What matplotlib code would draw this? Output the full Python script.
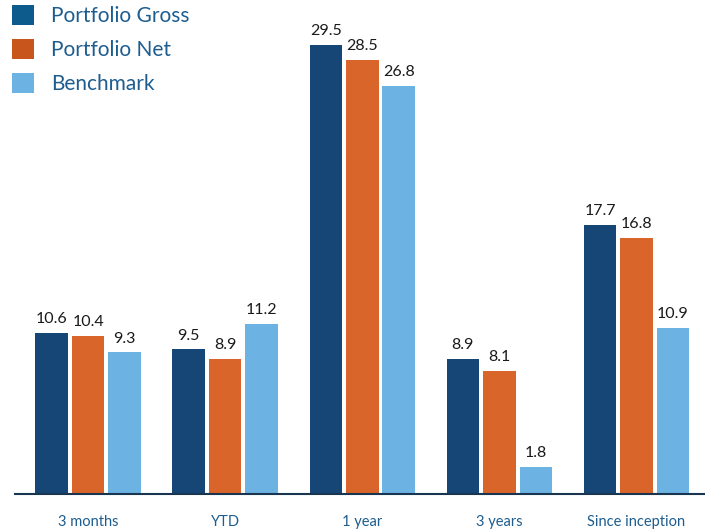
import matplotlib
matplotlib.use("Agg")
import matplotlib.pyplot as plt
import numpy as np
from matplotlib.patches import Patch

categories = ["3 months", "YTD", "1 year", "3 years", "Since inception"]
series_names = ["Portfolio Gross", "Portfolio Net", "Benchmark"]
gross = [10.6, 9.5, 29.5, 8.9, 17.7]
net = [10.4, 8.9, 28.5, 8.1, 16.8]
bench = [9.3, 11.2, 26.8, 1.8, 10.9]

bar_colors = ["#154676", "#d9652a", "#6cb3e3"]
legend_colors = ["#0d5a8c", "#c8551b", "#6cb3e3"]
text_blue = "#1d5d8f"

plt.rcParams['font.family'] = ['Lato', 'DejaVu Sans']

fig = plt.figure(figsize=(7.05, 5.29), dpi=100)
ax = fig.add_axes([15/705, 35/529, 690/705, 494/529])

x = np.arange(len(categories))
width = 0.237
step = 0.266
for i, vals in enumerate([gross, net, bench]):
    pos = x + (i - 1) * step
    ax.bar(pos, vals, width=width, color=bar_colors[i], zorder=2)
    for p, v in zip(pos, vals):
        ax.text(p, v + 0.45, f"{v:.1f}", ha="center", va="bottom",
                fontsize=11.5, color="#1a1a1a")

ax.set_xlim(-0.533, 4.5)
ax.set_ylim(0, 494/15.22)
for s in ["top", "right", "left"]:
    ax.spines[s].set_visible(False)
ax.spines["bottom"].set_color("#1a3550")
ax.spines["bottom"].set_linewidth(1.5)
ax.set_yticks([])
ax.set_xticks(x)
ax.set_xticklabels(categories, fontsize=10.5, color=text_blue)
ax.tick_params(axis="x", length=0, pad=15)

handles = [Patch(facecolor=c, edgecolor="none") for c in legend_colors]
leg = fig.legend(handles, series_names, loc="upper left",
                 bbox_to_anchor=(7/705, 1.0), frameon=False,
                 fontsize=15, handlelength=1.06, handleheight=1.06,
                 labelspacing=0.63, handletextpad=0.8, borderaxespad=0.0,
                 borderpad=0.25)
for t in leg.get_texts():
    t.set_color(text_blue)

fig.savefig("out.png", dpi=100)
